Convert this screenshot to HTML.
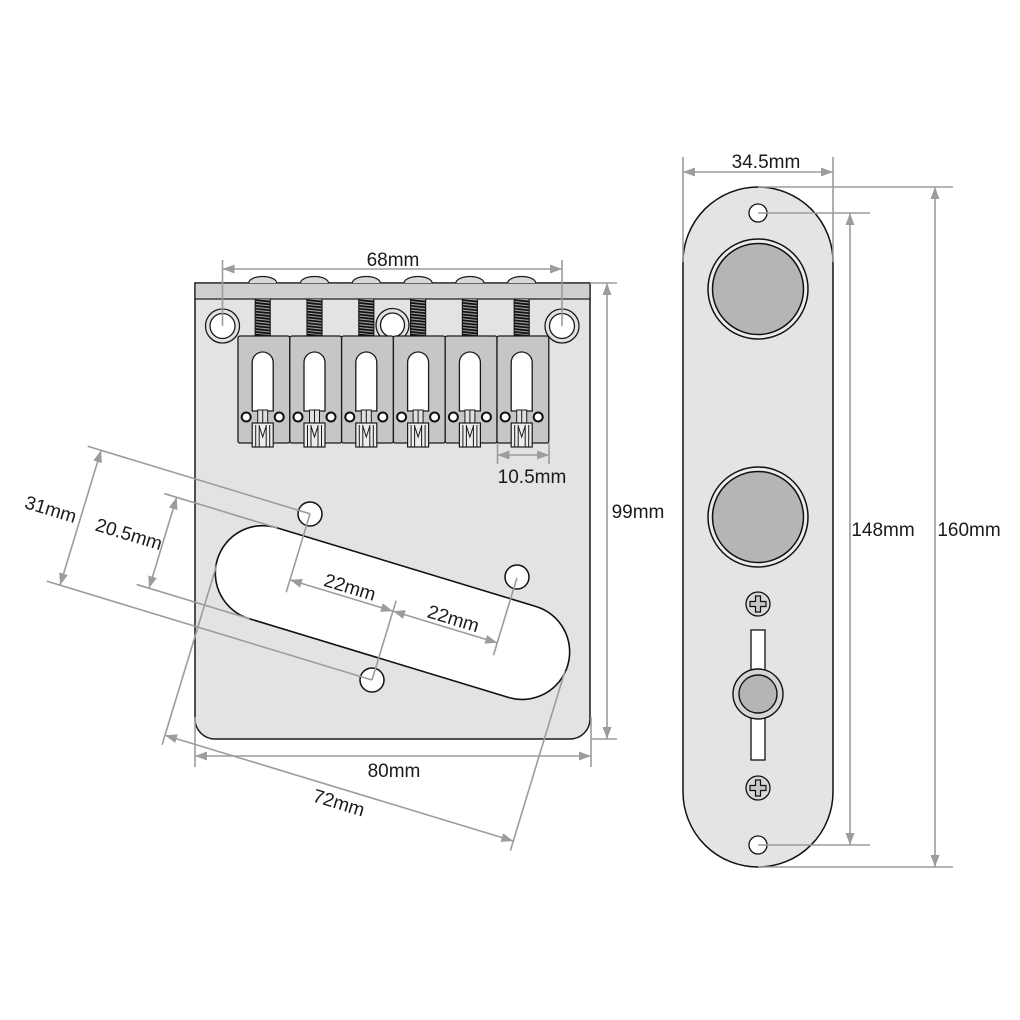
<!DOCTYPE html>
<html><head><meta charset="utf-8"><style>
html,body{margin:0;padding:0;background:#fff;}
svg{display:block;}
text{font-family:"Liberation Sans",Arial,sans-serif;font-size:19px;fill:#1a1a1a;}
</style></head><body>
<svg width="1020" height="1020" viewBox="0 0 1020 1020" xmlns="http://www.w3.org/2000/svg">
<defs>
<marker id="a" viewBox="0 0 12 9" refX="12" refY="4.5" markerWidth="12" markerHeight="9" markerUnits="userSpaceOnUse" orient="auto-start-reverse"><path d="M0,0L12,4.5L0,9z" fill="#9c9c9c"/></marker>
<g id="sad">
 <path d="M-14,283 A14,6.5 0 0 1 14,283" fill="#d8d8d8" stroke="#1a1a1a" stroke-width="1.2"/>
 <rect x="-7.5" y="299" width="15" height="37" fill="#9a9a9a"/>
 <path d="M-7.5,300L7.5,301.6M-7.5,302.9L7.5,304.5M-7.5,305.8L7.5,307.4M-7.5,308.7L7.5,310.3M-7.5,311.6L7.5,313.2M-7.5,314.5L7.5,316.1M-7.5,317.4L7.5,319M-7.5,320.3L7.5,321.9M-7.5,323.2L7.5,324.8M-7.5,326.1L7.5,327.7M-7.5,329L7.5,330.6M-7.5,331.9L7.5,333.5M-7.5,334.6L7.5,336" stroke="#111" stroke-width="1.7"/>
 <path d="M-7.5,299V336M7.5,299V336" stroke="#1a1a1a" stroke-width="1.2"/>
 <rect x="-24.7" y="336" width="51.8" height="107" rx="2" fill="#c6c6c6" stroke="#1a1a1a" stroke-width="1.3"/>
 <path d="M-10.5,411 L-10.5,362.5 A10.5,10.5 0 0 1 10.5,362.5 L10.5,411 Z" fill="#fff" stroke="#1a1a1a" stroke-width="1.3"/>
 <rect x="-5" y="410" width="10" height="14" fill="#e0e0e0" stroke="#1a1a1a" stroke-width="1"/>
 <path d="M0,410V424" stroke="#1a1a1a" stroke-width="1"/>
 <circle cx="-16.5" cy="417" r="4.5" fill="#fff" stroke="#111" stroke-width="2"/>
 <circle cx="16.5" cy="417" r="4.5" fill="#fff" stroke="#111" stroke-width="2"/>
 <rect x="-10.5" y="423" width="21" height="24" fill="#ececec" stroke="#1a1a1a" stroke-width="1.2"/>
 <path d="M-7,425V447M-3.5,425V447M3.5,425V447M7,425V447M-3.5,426L0,437L3.5,426" fill="none" stroke="#1a1a1a" stroke-width="1"/>
</g>
</defs>

<!-- Bridge plate -->
<path d="M195,283 L590,283 L590,719 A20,20 0 0 1 570,739 L215,739 A20,20 0 0 1 195,719 Z" fill="#e3e3e3" stroke="#1a1a1a" stroke-width="1.5"/>
<rect x="195" y="283" width="395" height="16" fill="#cfcfcf" stroke="#1a1a1a" stroke-width="1.2"/>

<!-- mounting holes -->
<circle cx="222.5" cy="326" r="17" fill="#e3e3e3" stroke="#1a1a1a" stroke-width="1.3"/>
<circle cx="222.5" cy="326" r="12.5" fill="#fff" stroke="#1a1a1a" stroke-width="1.3"/>
<circle cx="562" cy="326" r="17" fill="#e3e3e3" stroke="#1a1a1a" stroke-width="1.3"/>
<circle cx="562" cy="326" r="12.5" fill="#fff" stroke="#1a1a1a" stroke-width="1.3"/>
<circle cx="392.5" cy="325" r="16.5" fill="#e3e3e3" stroke="#1a1a1a" stroke-width="1.3"/>
<circle cx="392.5" cy="325" r="12" fill="#fff" stroke="#1a1a1a" stroke-width="1.3"/>

<!-- saddles -->
<use href="#sad" x="262.7"/>
<use href="#sad" x="314.5"/>
<use href="#sad" x="366.3"/>
<use href="#sad" x="418.1"/>
<use href="#sad" x="469.9"/>
<use href="#sad" x="521.7"/>

<!-- pickup -->
<g transform="translate(372,680) rotate(16.9)">
 <rect x="-183" y="-118" width="366" height="95" rx="47.5" fill="#fff" stroke="#111" stroke-width="1.6"/>
</g>
<circle cx="310" cy="514" r="12" fill="#fff" stroke="#111" stroke-width="1.5"/>
<circle cx="517" cy="577" r="12" fill="#fff" stroke="#111" stroke-width="1.5"/>
<circle cx="372" cy="680" r="12" fill="#fff" stroke="#111" stroke-width="1.5"/>

<g stroke="#9c9c9c" stroke-width="1.6" fill="none">
 <path d="M222.5,260V326M562,260V326"/>
 <line x1="222.5" y1="269" x2="562" y2="269" marker-start="url(#a)" marker-end="url(#a)"/>
 <path d="M497.5,443V464M549,443V464"/>
 <line x1="497.5" y1="455" x2="549" y2="455" marker-start="url(#a)" marker-end="url(#a)"/>
 <path d="M590,283H617M591,739H617"/>
 <line x1="607" y1="283" x2="607" y2="739" marker-start="url(#a)" marker-end="url(#a)"/>
 <path d="M195,717V767M591,717V767"/>
 <line x1="195" y1="756" x2="591" y2="756" marker-start="url(#a)" marker-end="url(#a)"/>
</g>

<g transform="translate(372,680) rotate(16.9)">
 <g stroke="#9c9c9c" stroke-width="1.6" fill="none">
  <path d="M-340,-141H-107.6M-340,0H0"/>
  <line x1="-326" y1="-141" x2="-326" y2="0" marker-start="url(#a)" marker-end="url(#a)"/>
  <path d="M-253,-118H-135M-253,-23H-135"/>
  <line x1="-240" y1="-118" x2="-240" y2="-23" marker-start="url(#a)" marker-end="url(#a)"/>
  <path d="M-182,-65V123M182,-65V123"/>
  <line x1="-182" y1="113" x2="182" y2="113" marker-start="url(#a)" marker-end="url(#a)"/>
  <path d="M-107.6,-141V-59M0,0V-83M109,-140V-59"/>
  <line x1="-107.6" y1="-72" x2="0" y2="-72" marker-start="url(#a)" marker-end="url(#a)"/>
  <line x1="0" y1="-72" x2="109" y2="-72" marker-start="url(#a)" marker-end="url(#a)"/>
 </g>
 <text x="-357" y="-63.5" text-anchor="middle">31mm</text>
 <text x="-275" y="-62.5" text-anchor="middle">20.5mm</text>
 <text x="4" y="133.5" text-anchor="middle">72mm</text>
 <text x="-48" y="-76" text-anchor="middle">22mm</text>
 <text x="60" y="-76" text-anchor="middle">22mm</text>
</g>

<text x="393" y="266" text-anchor="middle">68mm</text>
<text x="532" y="483" text-anchor="middle">10.5mm</text>
<text x="638" y="518" text-anchor="middle">99mm</text>
<text x="394" y="777" text-anchor="middle">80mm</text>

<!-- Control plate -->
<path d="M683,262 A75,75 0 0 1 833,262 L833,792 A75,75 0 0 1 683,792 Z" fill="#e4e4e4" stroke="#111" stroke-width="1.5"/>
<circle cx="758" cy="213" r="9" fill="#fff" stroke="#111" stroke-width="1.3"/>
<circle cx="758" cy="845" r="9" fill="#fff" stroke="#111" stroke-width="1.3"/>
<circle cx="758" cy="289" r="50" fill="#ececec" stroke="#111" stroke-width="1.5"/>
<circle cx="758" cy="289" r="45.5" fill="#b5b5b5" stroke="#111" stroke-width="1.5"/>
<circle cx="758" cy="517" r="50" fill="#ececec" stroke="#111" stroke-width="1.5"/>
<circle cx="758" cy="517" r="45.5" fill="#b5b5b5" stroke="#111" stroke-width="1.5"/>
<circle cx="758" cy="604" r="12" fill="#d8d8d8" stroke="#111" stroke-width="1.3"/>
<path d="M755.5,596h5v5.5h5.5v5h-5.5v5.5h-5v-5.5h-5.5v-5h5.5z" fill="#c8c8c8" stroke="#111" stroke-width="1.2"/>
<circle cx="758" cy="788" r="12" fill="#d8d8d8" stroke="#111" stroke-width="1.3"/>
<path d="M755.5,780h5v5.5h5.5v5h-5.5v5.5h-5v-5.5h-5.5v-5h5.5z" fill="#c8c8c8" stroke="#111" stroke-width="1.2"/>
<rect x="751" y="630" width="14" height="130" fill="#fff" stroke="#111" stroke-width="1.3"/>
<circle cx="758" cy="694" r="25" fill="#d5d5d5" stroke="#111" stroke-width="1.4"/>
<circle cx="758" cy="694" r="19" fill="#b5b5b5" stroke="#111" stroke-width="1.4"/>

<g stroke="#9c9c9c" stroke-width="1.6" fill="none">
 <path d="M683,157V262M833,157V262"/>
 <line x1="683" y1="172" x2="833" y2="172" marker-start="url(#a)" marker-end="url(#a)"/>
 <path d="M758,213H870M758,845H870"/>
 <line x1="850" y1="213" x2="850" y2="845" marker-start="url(#a)" marker-end="url(#a)"/>
 <path d="M758,187H953M758,867H953"/>
 <line x1="935" y1="187" x2="935" y2="867" marker-start="url(#a)" marker-end="url(#a)"/>
</g>
<text x="766" y="168" text-anchor="middle">34.5mm</text>
<text x="883" y="536" text-anchor="middle">148mm</text>
<text x="969" y="536" text-anchor="middle">160mm</text>
</svg>
</body></html>
